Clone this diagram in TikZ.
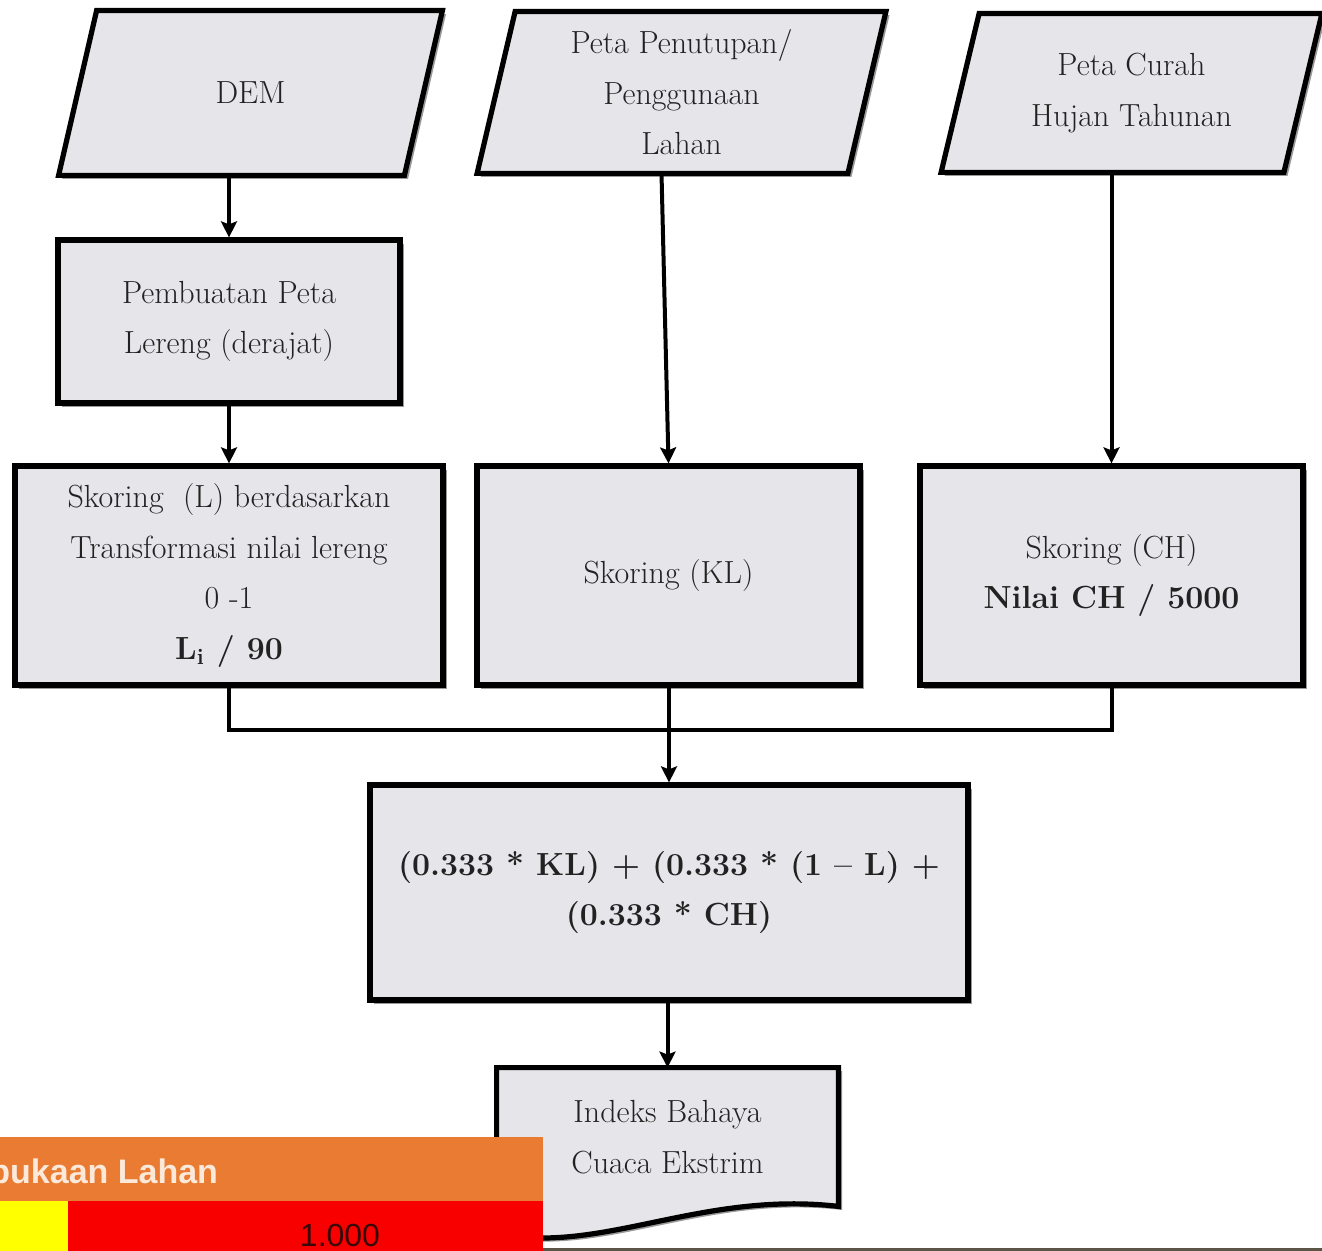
\documentclass[tikz,border=0pt]{standalone}
\usepackage{fontspec}
\usetikzlibrary{positioning,arrows.meta,shadows,backgrounds}
\newfontfamily\uifont{Liberation Sans}
\definecolor{boxgray}{HTML}{E6E6EA}
\definecolor{inkgray}{HTML}{222222}
\definecolor{bandorange}{HTML}{E97B32}
\definecolor{bandred}{HTML}{F80000}
\definecolor{bandyellow}{HTML}{FFFF00}
\definecolor{bandtext}{HTML}{FCE9D9}
\definecolor{valuetext}{HTML}{3A0808}
\definecolor{rulegray}{HTML}{5A5546}
\def\ioslant{9.5pt}
\newcommand\ioshape[1]{\draw[ioline] ([xshift=\ioslant]#1.north west) -- ([xshift=\ioslant]#1.north east) -- ([xshift=-\ioslant]#1.south east) -- ([xshift=-\ioslant]#1.south west) -- cycle;}

\begin{document}
\begin{tikzpicture}[>={Stealth[width=8pt,length=8pt,inset=1.5pt]}, font=\fontsize{16}{25.3}\selectfont, text=inkgray,
	boxshadow/.style={drop shadow={shadow xshift=1.8pt, shadow yshift=-1.8pt, opacity=.4, fill=black}},
	proc/.style={rectangle, draw=black, line width=2.6pt, fill=boxgray, boxshadow, align=center},
	io/.style={rectangle, align=center, inner sep=0pt},
	ioline/.style={draw=black, line width=2.6pt, fill=boxgray, boxshadow, line join=miter},
	flow/.style={line width=2pt}]
	\useasboundingbox (0pt, 0pt) rectangle (661pt, -625.5pt);
	\draw (125.25pt, -46.5pt)node[io, minimum width=172.5pt, minimum height=82pt](dem){DEM};
	\draw (340.75pt, -46.25pt)node[io, minimum width=185pt, minimum height=80.5pt](tutupan){Peta Penutupan/\\Penggunaan\\Lahan};
	\draw (565.75pt, -46.5pt)node[io, minimum width=171pt, minimum height=79pt](curah){Peta Curah\\Hujan Tahunan};
	\draw (114.5pt, -160.75pt)node[proc, minimum width=171pt, minimum height=81.5pt](lereng){Pembuatan Peta\\Lereng (derajat)};
	\draw (114.5pt, -287.75pt)node[proc, minimum width=214pt, minimum height=109.5pt](skorL){Skoring~~(L) berdasarkan\\Transformasi nilai lereng\\0 -1\\\textbf{L\textsubscript{i} / 90}};
	\draw (334.25pt, -287.75pt)node[proc, minimum width=191.5pt, minimum height=109.5pt](skorKL){Skoring (KL)};
	\draw (555.75pt, -287.75pt)node[proc, minimum width=191.5pt, minimum height=109.5pt](skorCH){Skoring (CH)\\\textbf{Nilai CH~/~5000}};
	\draw (334.5pt, -446.25pt)node[proc, minimum width=299pt, minimum height=107.5pt](rumus){\textbf{(0.333 * KL) + (0.333 * (1 -- L) +}\\\textbf{(0.333 * CH)}};
	\draw (333.75pt, -568.5pt)node[io, minimum width=170.5pt, minimum height=69pt](indeks){Indeks Bahaya\\Cuaca Ekstrim};
	\begin{scope}[on background layer]
		\ioshape{dem}
		\ioshape{tutupan}
		\ioshape{curah}
		\draw[ioline] (indeks.south east) -- (indeks.north east) -- (indeks.north west) -- ([yshift=-13.5pt]indeks.south west) .. controls ([xshift=51.5pt, yshift=-24.5pt]indeks.south west) and ([xshift=-69pt, yshift=8pt]indeks.south east) .. (indeks.south east) -- cycle;
	\end{scope}
	\coordinate (join) at ([yshift=26pt]rumus.north);
	\path[->, flow] (lereng.north |- dem.south) edge (lereng.north);
	\path[->, flow] (lereng) edge (skorL);
	\path[->, flow] ([xshift=-10pt]tutupan.south) edge (skorKL.north);
	\path[->, flow] (skorCH.north |- curah.south) edge (skorCH.north);
	\draw[flow, line join=miter] (skorL.south) |- (join) -| (skorCH.south);
	\path[->, flow] (rumus.north |- skorKL.south) edge (rumus.north);
	\path[->, flow] (indeks.north |- rumus.south) edge (indeks.north);
	% pasted legend strip, lower left
	\begin{scope}
		\clip (0pt, -568.5pt) rectangle (271.5pt, -625.5pt);
		\fill[bandorange] (0pt, -568.5pt) rectangle (271.5pt, -600.5pt);
		\fill[bandyellow] (0pt, -600.5pt) rectangle (34pt, -625.5pt);
		\fill[bandred] (34pt, -600.5pt) rectangle (271.5pt, -625.5pt);
		\node[anchor=base west, inner sep=0pt, text=bandtext, font=\uifont\bfseries\fontsize{17}{17}\selectfont] (bandtitle) at (-5.5pt, -591.5pt) {bukaan Lahan};
		\node[anchor=base, inner sep=0pt, text=valuetext, font=\uifont\fontsize{16}{16}\selectfont] (bandvalue) at (170pt, -623.3pt) {1.000};
	\end{scope}
	\draw[rulegray, line width=1.5pt] (271.5pt, -624.5pt) -- (661pt, -624.5pt);
\end{tikzpicture}
\end{document}
